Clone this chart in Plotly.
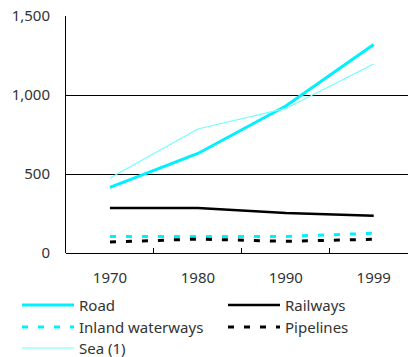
import plotly.graph_objects as go

years = ["1970", "1980", "1990", "1999"]
road = [415, 630, 930, 1320]
railways = [285, 285, 253, 236]
inland_waterways = [105, 105, 105, 125]
pipelines = [70, 88, 74, 87]
sea = [475, 785, 915, 1196]

CYAN = "#00F0FF"
LIGHT_CYAN = "#70FFFF"
DASH = "6px,10px"

series = [
    ("Road", road, dict(color=CYAN, width=3)),
    ("Railways", railways, dict(color="#000000", width=2.5)),
    ("Inland waterways", inland_waterways, dict(color=CYAN, width=3, dash=DASH)),
    ("Pipelines", pipelines, dict(color="#000000", width=3, dash=DASH)),
    ("Sea (1)", sea, dict(color=LIGHT_CYAN, width=1.2)),
]

# Plot area geometry (pixels) used to place the two-column key below the chart
W, H = 408, 357
L, R, T, B = 66, 0, 16, 104
pw, ph = W - L - R, H - T - B

def px_x(x):
    return (x - L) / pw

def px_y(y):
    return (H - B - y) / ph

fig = go.Figure()
for name, values, line in series:
    fig.add_trace(go.Scatter(x=years, y=values, name=name, mode="lines",
                             line=line, showlegend=False))

# Key: two columns, three rows
key_cols = [22, 228]
key_rows = [305, 327, 348]
for i, (name, _, line) in enumerate(series):
    cx = key_cols[i % 2]
    cy = key_rows[i // 2]
    fig.add_shape(type="line", xref="paper", yref="paper",
                  x0=px_x(cx), x1=px_x(cx + 52), y0=px_y(cy), y1=px_y(cy),
                  line=line)
    fig.add_annotation(xref="paper", yref="paper", x=px_x(cx + 55), y=px_y(cy),
                       xanchor="left", yanchor="middle", showarrow=False,
                       text=name, font=dict(size=15, color="#333333"))

fig.update_layout(
    width=W, height=H,
    margin=dict(l=L, r=R, t=T, b=B),
    paper_bgcolor="white", plot_bgcolor="white",
    font=dict(family="Noto Sans", size=15, color="#333333"),
    showlegend=False,
)
fig.update_xaxes(type="category", range=[-0.5, 3.39],
                 showline=False, showgrid=False,
                 ticks="inside", tickson="boundaries", ticklen=5,
                 tickcolor="#000000", ticklabelstandoff=14)
fig.update_yaxes(range=[0, 1500], tickvals=[0, 500, 1000, 1500],
                 ticktext=["0", "500", "1,000", "1,500"],
                 showgrid=True, gridcolor="#000000", gridwidth=1,
                 zeroline=True, zerolinecolor="#000000", zerolinewidth=1,
                 showline=True, linecolor="#000000", linewidth=1,
                 ticks="", ticklabelstandoff=12)

fig.write_html("out.html")
